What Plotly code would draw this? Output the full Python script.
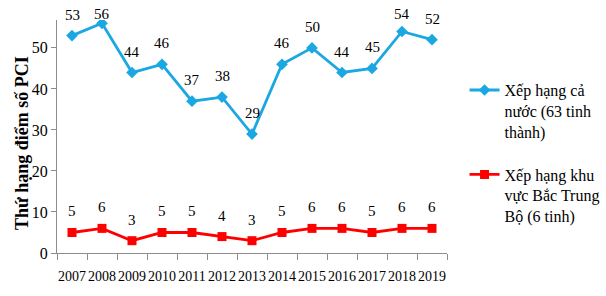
import plotly.graph_objects as go

years = ["2007", "2008", "2009", "2010", "2011", "2012", "2013",
         "2014", "2015", "2016", "2017", "2018", "2019"]
national_rank = [53, 56, 44, 46, 37, 38, 29, 46, 50, 44, 45, 54, 52]
regional_rank = [5, 6, 3, 5, 5, 4, 3, 5, 6, 6, 5, 6, 6]
name_national = "Xếp hạng cả<br>nước (63 tinh<br>thành)"
name_regional = "Xếp hạng khu<br>vực Bắc Trung<br>Bộ (6 tinh)"
y_title = "Thứ hạng điểm số PCI"

FONT = "Liberation Serif, Times New Roman, serif"
CYAN = "#1BA8E2"
RED = "#FF0000"

W, H = 606, 296
M = dict(l=57, r=159, t=20, b=43)
Y_MAX = 56.8
plot_h = H - M["t"] - M["b"]
plot_w = W - M["l"] - M["r"]

fig = go.Figure()
fig.add_trace(go.Scatter(
    x=years, y=national_rank, name=name_national, mode="lines+markers",
    legendgroup="g1",
    line=dict(color=CYAN, width=2.8),
    marker=dict(symbol="diamond", size=9, color=CYAN),
))
fig.add_trace(go.Scatter(
    x=years, y=regional_rank, name=name_regional, mode="lines+markers",
    legendgroup="g2",
    line=dict(color=RED, width=2.8),
    marker=dict(symbol="square", size=9, color=RED),
))

annotations = []
for series in (national_rank, regional_rank):
    for i, v in enumerate(series):
        pix = M["t"] + (Y_MAX - v) / Y_MAX * plot_h
        shift = min(21, pix - 14)
        annotations.append(dict(
            x=i, y=v, xref="x", yref="y", text=str(v), showarrow=False,
            yshift=shift,
            font=dict(family=FONT, size=15, color="#000000"),
        ))

# y-axis title placed as a rotated annotation
annotations.append(dict(
    xref="paper", yref="paper",
    x=(22 - M["l"]) / plot_w, y=(H - M["b"] - 143) / plot_h,
    xanchor="center", yanchor="middle", textangle=-90, showarrow=False,
    text="<b>" + y_title + "</b>",
    font=dict(family=FONT, size=18, color="#000000"),
))

fig.update_layout(
    width=W, height=H,
    margin=dict(**M, autoexpand=False),
    paper_bgcolor="white", plot_bgcolor="white",
    font=dict(family=FONT, size=15, color="#000000"),
    showlegend=True,
    legend=dict(
        x=1.045, y=0.772, xanchor="left", yanchor="top",
        font=dict(family=FONT, size=16, color="#000000"),
        valign="top", tracegroupgap=19, itemwidth=30,
        bgcolor="rgba(0,0,0,0)",
    ),
    annotations=annotations,
    xaxis=dict(
        type="category", range=[-0.5, 12.5],
        showline=True, linecolor="#8C8C8C", linewidth=1,
        ticks="outside", ticklen=6, tickcolor="#8C8C8C",
        tickson="boundaries", showgrid=False, tickangle=0,
        ticklabelstandoff=10,
        tickfont=dict(family=FONT, size=14, color="#000000"),
    ),
    yaxis=dict(
        range=[0, Y_MAX], tickvals=[0, 10, 20, 30, 40, 50],
        showline=True, linecolor="#8C8C8C", linewidth=1,
        ticks="outside", ticklen=5, tickcolor="#8C8C8C",
        showgrid=False, zeroline=False,
        tickfont=dict(family=FONT, size=16, color="#000000"),
    ),
)

fig.write_html("out.html")
